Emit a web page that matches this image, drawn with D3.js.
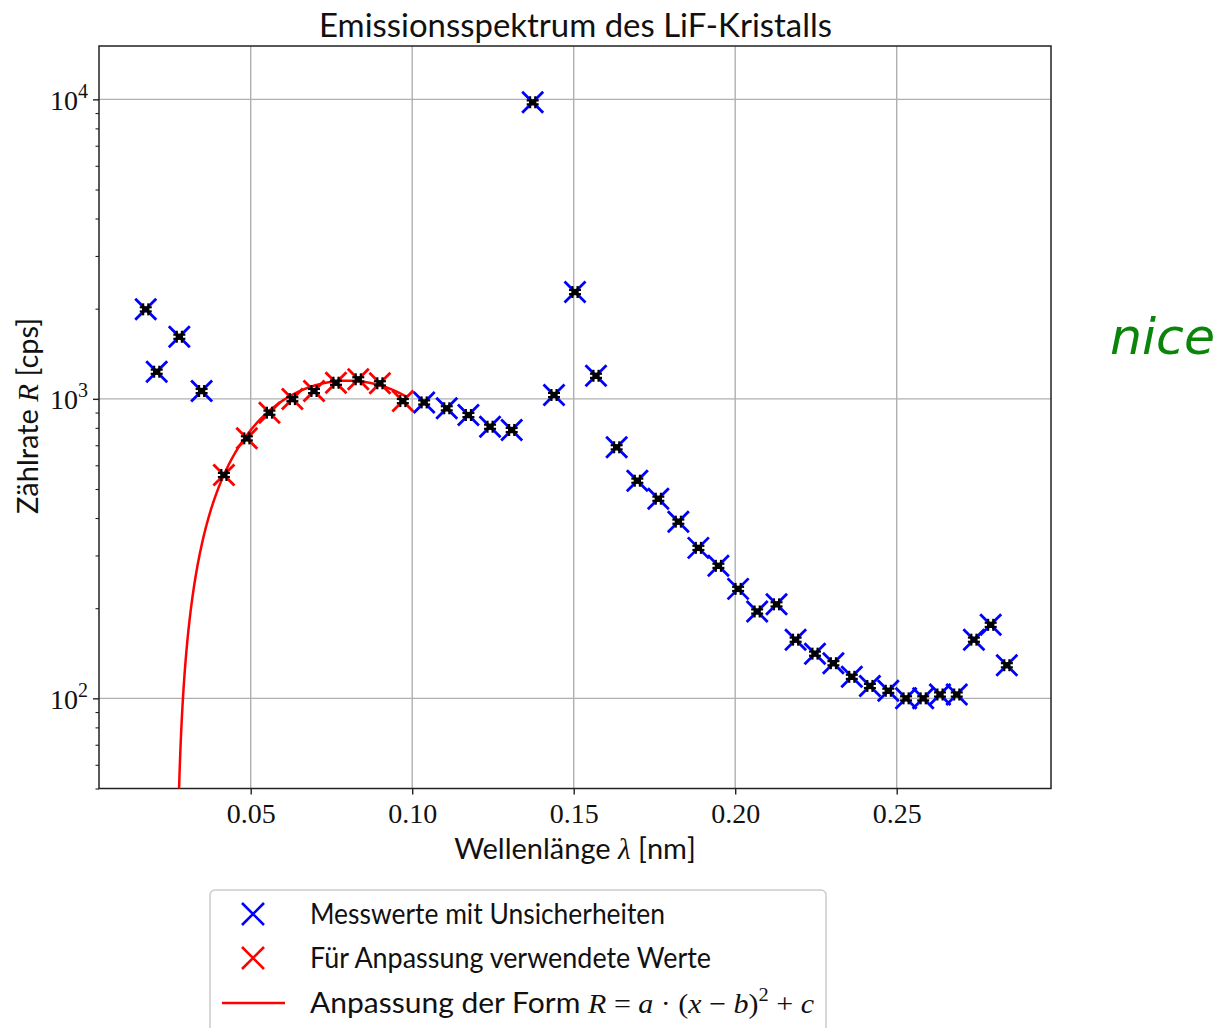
<!DOCTYPE html>
<html><head><meta charset="utf-8">
<script src="https://cdn.jsdelivr.net/npm/d3@7"></script>
<style>body{margin:0;background:#fff}svg{display:block}</style>
</head><body>
<svg id="chart" width="1229" height="1028"></svg>
<script>
// ---- data ----
const wavelength = [0.0175,0.0209,0.0279,0.0348,0.0417,0.0488,0.0558,0.0629,0.0696,0.0764,0.0833,0.0900,0.0971,0.1037,0.1107,0.1174,0.1241,0.1308,0.1373,0.1439,0.1504,0.1569,0.1633,0.1697,0.1762,0.1824,0.1886,0.1948,0.2009,0.2068,0.2128,0.2187,0.2247,0.2304,0.2361,0.2417,0.2474,0.2529,0.2582,0.2634,0.2686,0.2739,0.2791,0.2841];
const rate = [1990,1232,1612,1062,557,738,899,998,1062,1132,1162,1127,983,973,930,883,807,787,9772,1030,2273,1194,689,533,464,389,318,277,232,195,206,157,141,131,118,110,106,100,100,103,103,157,176,129];
const fitIndices = [4,5,6,7,8,9,10,11,12];
const fitParams = [-404000, 0.080, 1150];   // a, b, c of R = a (x-b)^2 + c
const fitRange = [0.0260, 0.0985];
const xErr = 0.0008;
const yErrRel = 0.016;
const xTicks = [0.05, 0.10, 0.15, 0.20, 0.25];
const yTicks = [100, 1000, 10000];
const yTickExp = ["2", "3", "4"];
const legendLabels = ["Messwerte mit Unsicherheiten", "Für Anpassung verwendete Werte", "Anpassung der Form "];

const svg = d3.select("#chart");
const L = 99, R = 1051, T = 46, B = 788.5;
const x = d3.scaleLinear().domain([0.00303, 0.29777]).range([L, R]);
const y = d3.scaleLog().domain([50, 15070]).range([B, T]);

const SANS = "Lato, 'DejaVu Sans', sans-serif";
const SERIF = "'Liberation Serif', 'DejaVu Serif', serif";

svg.append("defs").append("clipPath").attr("id", "clip")
  .append("rect").attr("x", L).attr("y", T).attr("width", R - L).attr("height", B - T);

// grid
const grid = svg.append("g");
grid.selectAll(".gx").data(xTicks).join("line")
  .attr("x1", d => x(d)).attr("x2", d => x(d)).attr("y1", T).attr("y2", B)
  .attr("stroke", "#b0b0b0").attr("stroke-width", 1.4);
grid.selectAll(".gy").data(yTicks).join("line")
  .attr("y1", d => y(d)).attr("y2", d => y(d)).attr("x1", L).attr("x2", R)
  .attr("stroke", "#b0b0b0").attr("stroke-width", 1.4);

// axes
const xAxis = d3.axisBottom(x).tickValues(xTicks).tickSize(6).tickFormat(d3.format(".2f"));
const gx = svg.append("g").attr("transform", `translate(0,${B})`).call(xAxis);
gx.select(".domain").remove();
gx.selectAll(".tick line").attr("stroke", "#222").attr("stroke-width", 1.4);
gx.selectAll(".tick text").attr("font-family", SERIF).attr("font-size", 28)
  .attr("fill", "#111").attr("dy", 0).attr("y", 34);

const minorY = [];
[10, 100, 1000, 10000].forEach(p => { for (let k = 2; k <= 9; k++) { const v = p * k; if (v >= 50 && v <= 15070) minorY.push(v); } });
const gyMinor = svg.append("g").attr("transform", `translate(${L},0)`)
  .call(d3.axisLeft(y).tickValues(minorY).tickSize(3.5).tickFormat(""));
gyMinor.select(".domain").remove();
gyMinor.selectAll(".tick line").attr("stroke", "#222").attr("stroke-width", 1.1);

const gy = svg.append("g").attr("transform", `translate(${L},0)`)
  .call(d3.axisLeft(y).tickValues(yTicks).tickSize(6).tickFormat(""));
gy.select(".domain").remove();
gy.selectAll(".tick line").attr("stroke", "#222").attr("stroke-width", 1.4);
gy.selectAll(".tick").each(function(d, i) {
  const t = d3.select(this).append("text").attr("x", -11).attr("y", 10)
    .attr("text-anchor", "end").attr("font-family", SERIF).attr("font-size", 28).attr("fill", "#111");
  t.append("tspan").text("10");
  t.append("tspan").attr("dy", -12).attr("font-size", 20).text(yTickExp[i]);
});

// frame
svg.append("rect").attr("x", L).attr("y", T).attr("width", R - L).attr("height", B - T)
  .attr("fill", "none").attr("stroke", "#222").attr("stroke-width", 1.5);

// data
const pts = wavelength.map((w, i) => ({ w, r: rate[i], fit: fitIndices.includes(i) }));
const plot = svg.append("g").attr("clip-path", "url(#clip)");
const s = 10.5;
const xPath = `M${-s},${-s}L${s},${s}M${-s},${s}L${s},${-s}`;
plot.selectAll(".mb").data(pts.filter(p => !p.fit)).join("path")
  .attr("d", xPath).attr("transform", p => `translate(${x(p.w)},${y(p.r)})`)
  .attr("stroke", "#0000ff").attr("stroke-width", 2.8).attr("fill", "none");
plot.selectAll(".mr").data(pts.filter(p => p.fit)).join("path")
  .attr("d", xPath).attr("transform", p => `translate(${x(p.w)},${y(p.r)})`)
  .attr("stroke", "#ff0000").attr("stroke-width", 2.8).attr("fill", "none");

// fit curve
const [fa, fb, fc] = fitParams;
const curve = d3.range(fitRange[0], fitRange[1] + 1e-9, 0.0001)
  .map(v => ({ w: v, r: fa * (v - fb) * (v - fb) + fc }))
  .filter(p => p.r > 10);
plot.append("path").datum(curve)
  .attr("d", d3.line().x(p => x(p.w)).y(p => y(p.r)))
  .attr("fill", "none").attr("stroke", "#ff0000").attr("stroke-width", 2.5);

// error bars
const cap = 6;
const eb = plot.selectAll(".eb").data(pts).join("g").attr("stroke", "#000").attr("stroke-width", 2.2);
eb.each(function(p) {
  const g = d3.select(this);
  const cx = x(p.w), cy = y(p.r);
  const x0 = x(p.w - xErr), x1 = x(p.w + xErr);
  const y0 = y(p.r * (1 - yErrRel)), y1 = y(p.r * (1 + yErrRel));
  g.append("line").attr("x1", x0).attr("x2", x1).attr("y1", cy).attr("y2", cy);
  g.append("line").attr("x1", x0).attr("x2", x0).attr("y1", cy - cap).attr("y2", cy + cap);
  g.append("line").attr("x1", x1).attr("x2", x1).attr("y1", cy - cap).attr("y2", cy + cap);
  g.append("line").attr("x1", cx).attr("x2", cx).attr("y1", y0).attr("y2", y1);
  g.append("line").attr("x1", cx - cap).attr("x2", cx + cap).attr("y1", y0).attr("y2", y0);
  g.append("line").attr("x1", cx - cap).attr("x2", cx + cap).attr("y1", y1).attr("y2", y1);
});

// title & labels
svg.append("text").attr("x", 575.5).attr("y", 37).attr("text-anchor", "middle")
  .attr("font-family", SANS).attr("font-size", 33).attr("fill", "#111")
  .attr("textLength", 513).attr("lengthAdjust", "spacingAndGlyphs")
  .text("Emissionsspektrum des LiF-Kristalls");

const xl = svg.append("text").attr("x", 575).attr("y", 859).attr("text-anchor", "middle")
  .attr("font-family", SANS).attr("font-size", 29).attr("fill", "#111");
xl.append("tspan").text("Wellenlänge ");
xl.append("tspan").attr("font-family", SERIF).attr("font-style", "italic").text("λ");
xl.append("tspan").text(" [nm]");

const yl = svg.append("text").attr("transform", "translate(38,416) rotate(-90)").attr("text-anchor", "middle")
  .attr("font-family", SANS).attr("font-size", 29).attr("fill", "#111");
yl.append("tspan").text("Zählrate ");
yl.append("tspan").attr("font-family", SERIF).attr("font-style", "italic").text("R");
yl.append("tspan").text(" [cps]");

// legend
const lg = svg.append("g");
lg.append("rect").attr("x", 210).attr("y", 890).attr("width", 616).attr("height", 150).attr("rx", 5)
  .attr("fill", "#fff").attr("fill-opacity", 0.8).attr("stroke", "#cccccc").attr("stroke-width", 1.5);
const rowsY = [914, 958, 1003];
const ls = 11;
const lxPath = `M${-ls},${-ls}L${ls},${ls}M${-ls},${ls}L${ls},${-ls}`;
lg.append("path").attr("d", lxPath).attr("transform", `translate(253,${rowsY[0]})`)
  .attr("stroke", "#0000ff").attr("stroke-width", 2.6).attr("fill", "none");
lg.append("path").attr("d", lxPath).attr("transform", `translate(253,${rowsY[1]})`)
  .attr("stroke", "#ff0000").attr("stroke-width", 2.6).attr("fill", "none");
lg.append("line").attr("x1", 222).attr("x2", 285).attr("y1", rowsY[2]).attr("y2", rowsY[2])
  .attr("stroke", "#ff0000").attr("stroke-width", 2.5);
const legendWidths = [355, 401, 504];
legendLabels.forEach((lab, i) => {
  const t = lg.append("text").attr("x", 310).attr("y", rowsY[i] + 10)
    .attr("font-family", SANS).attr("font-size", 28).attr("fill", "#111")
    .attr("textLength", legendWidths[i]).attr("lengthAdjust", "spacingAndGlyphs");
  t.append("tspan").text(lab);
  if (i === 2) {
    const it = v => t.append("tspan").attr("font-family", SERIF).attr("font-style", "italic").text(v);
    const rm = v => t.append("tspan").attr("font-family", SERIF).text(v);
    it("R"); rm(" = "); it("a"); rm(" · ("); it("x"); rm(" − "); it("b"); rm(")");
    t.append("tspan").attr("font-family", SERIF).attr("font-size", 19).attr("dy", -12).text("2");
    t.append("tspan").attr("font-family", SERIF).attr("dy", 12).text(" + ");
    it("c");
  }
});

// handwritten annotation
svg.append("text").attr("x", 1110).attr("y", 354)
  .attr("font-family", "'DejaVu Sans', sans-serif").attr("font-style", "italic").attr("font-size", 50)
  .attr("fill", "#0a850a")
  .attr("textLength", 105).attr("lengthAdjust", "spacingAndGlyphs")
  .text("nice");
</script>
</body></html>
